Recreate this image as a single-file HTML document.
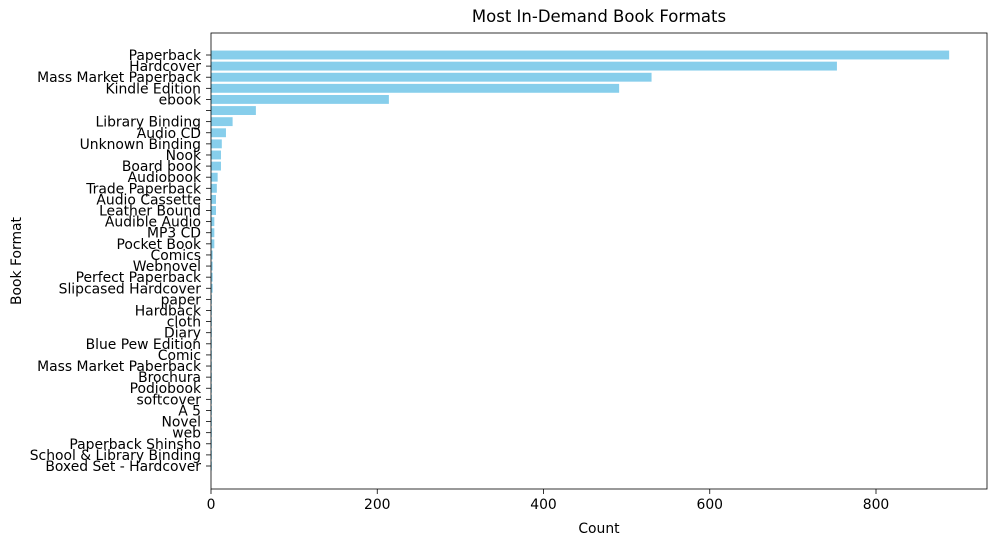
<!DOCTYPE html>
<html><head><meta charset="utf-8"><style>
body{margin:0;background:#fff;font-family:"DejaVu Sans",sans-serif;}
</style></head><body>
<svg id="chart" width="995" height="545" xmlns="http://www.w3.org/2000/svg" font-family="DejaVu Sans, sans-serif"></svg>
<script>
const categories=["Paperback","Hardcover","Mass Market Paperback","Kindle Edition","ebook","","Library Binding","Audio CD","Unknown Binding","Nook","Board book","Audiobook","Trade Paperback","Audio Cassette","Leather Bound","Audible Audio","MP3 CD","Pocket Book","Comics","Webnovel","Perfect Paperback","Slipcased Hardcover","paper","Hardback","cloth","Diary","Blue Pew Edition","Comic","Mass Market Paberback","Brochura","Podiobook","softcover","A 5","Novel","web","Paperback Shinsho","School & Library Binding","Boxed Set - Hardcover"];
const counts=[888,753,530,491,214,54,26,18,13,12,12,8,7,6,6,4,4,4,2,2,2,2,1,1,1,1,1,1,1,1,1,1,1,1,1,1,1,1];
const xTicks=[0,200,400,600,800];
const svg=document.getElementById('chart');
const NS='http://www.w3.org/2000/svg';
const L=211,R=987,T=33,B=489;
const xs=v=>L+v*(876-211)/800;
const step=(466-55)/37;
const ys=i=>55+i*step;
function mk(tag,attrs,txt){const e=document.createElementNS(NS,tag);for(const k in attrs)e.setAttribute(k,attrs[k]);if(txt!==undefined)e.textContent=txt;svg.appendChild(e);return e;}
categories.forEach((c,i)=>{
  const r=mk('rect',{x:L,y:ys(i)-step*0.4,width:Math.max(0,xs(counts[i])-L),height:step*0.8,fill:'#87ceeb'});
  
  
  mk('line',{x1:L-5,x2:L,y1:ys(i),y2:ys(i),stroke:'#000','stroke-width':0.8});
  const t=mk('text',{x:L-10,y:ys(i)+5,'text-anchor':'end','font-size':13.9,fill:'#000'},c);
  
  
});
xTicks.forEach(v=>{
  mk('line',{x1:xs(v),x2:xs(v),y1:B,y2:B+5,stroke:'#000','stroke-width':0.8});
  const t=mk('text',{x:xs(v),y:B+20,'text-anchor':'middle','font-size':13.9,fill:'#000'},String(v));
  
  
});
const f=mk('rect',{x:L,y:T,width:R-L,height:B-T,fill:'none',stroke:'#000','stroke-width':0.8});


const ti=mk('text',{x:(L+R)/2,y:22,'text-anchor':'middle','font-size':16.5,fill:'#000'},'Most In-Demand Book Formats');


const xl=mk('text',{x:(L+R)/2,y:533,'text-anchor':'middle','font-size':13.9,fill:'#000'},'Count');


const yl=mk('text',{x:21,y:(T+B)/2,'text-anchor':'middle','font-size':13.9,fill:'#000',transform:'rotate(-90 21 '+((T+B)/2)+')'},'Book Format');


</script>
</body></html>
